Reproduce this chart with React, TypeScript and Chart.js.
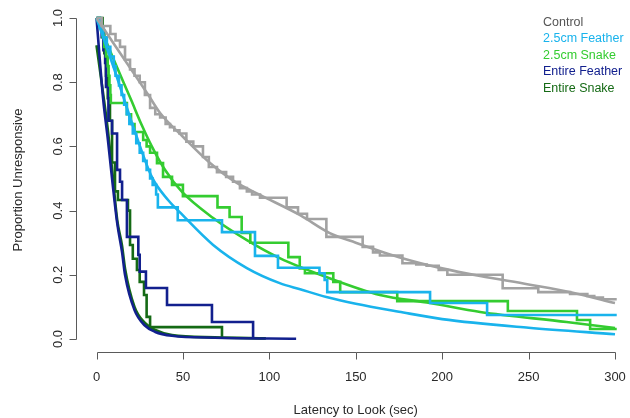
import React, { useEffect, useRef } from 'react';
import { Chart, registerables } from 'chart.js';

Chart.register(...registerables);

// ---- Data ----
const seriesNames = ['Control', '2.5cm Feather', '2.5cm Snake', 'Entire Feather', 'Entire Snake'];
const lineColors = ['#a2a2a2', '#19b3ec', '#34cc30', '#12208e', '#156a15'];
const legendColors = ['#555555', '#19b3ec', '#34cc30', '#12208e', '#156a15'];

const xTicks = [0, 50, 100, 150, 200, 250, 300];
const yTicks = [0, 0.2, 0.4, 0.6, 0.8, 1.0];
const yTickLabels = ['0.0', '0.2', '0.4', '0.6', '0.8', '1.0'];
const xTitle = 'Latency to Look (sec)';
const yTitle = 'Proportion Unresponsive';

// Kaplan-Meier style step curves (time, proportion)
const controlStepT = [0, 3, 8, 11, 13.6, 16.5, 19.4, 22, 25, 28, 31, 34, 36.8, 40, 42.5, 45, 48, 52, 56, 61.6, 65, 69.7, 75, 79, 83, 87, 90, 94.6, 110, 116.6, 121.8, 133, 154, 160, 164, 177, 185, 191, 198, 203, 235, 255.6, 274, 284, 288, 293, 301];
const controlStepS = [1, 0.975, 0.95, 0.93, 0.91, 0.87, 0.84, 0.82, 0.8, 0.76, 0.72, 0.7, 0.69, 0.67, 0.66, 0.65, 0.64, 0.615, 0.6, 0.567, 0.536, 0.52, 0.505, 0.49, 0.47, 0.46, 0.45, 0.44, 0.41, 0.39, 0.374, 0.318, 0.287, 0.27, 0.26, 0.236, 0.232, 0.228, 0.215, 0.2, 0.158, 0.146, 0.14, 0.134, 0.129, 0.124, 0.124];

const feather25StepT = [0, 2, 4, 6, 8, 10, 11, 13, 14.5, 16, 17.5, 19, 21, 23, 25, 27, 29, 31, 32.5, 34.5, 35.5, 47, 72.6, 91.7, 105, 129, 132, 133.5, 193, 226, 301];
const feather25StepS = [1, 0.97, 0.94, 0.91, 0.88, 0.85, 0.82, 0.79, 0.76, 0.73, 0.7, 0.67, 0.64, 0.61, 0.58, 0.555, 0.527, 0.5, 0.48, 0.45, 0.41, 0.37, 0.333, 0.259, 0.222, 0.205, 0.184, 0.146, 0.112, 0.075, 0.075];

const snake25StepT = [0, 2, 3.5, 4.5, 5.5, 6.5, 7, 7.5, 8, 8.3, 17.6, 20, 22, 27, 29, 31, 35, 38.5, 43.7, 50, 70, 77, 84, 89, 111, 117.6, 120.6, 137, 141, 174, 238, 278, 285.6, 301];
const snake25StepS = [1, 0.97, 0.94, 0.91, 0.88, 0.85, 0.82, 0.79, 0.76, 0.735, 0.7, 0.67, 0.645, 0.62, 0.6, 0.58, 0.548, 0.505, 0.48, 0.445, 0.41, 0.38, 0.33, 0.3, 0.255, 0.22, 0.205, 0.178, 0.146, 0.118, 0.087, 0.059, 0.031, 0.031];

const featherEntStepT = [0, 2, 3, 4, 5, 5.5, 6.9, 9, 11.9, 13.6, 14.8, 17.6, 24.2, 25, 28.6, 40.8, 66.8, 90.6];
const featherEntStepS = [1, 0.97, 0.94, 0.9, 0.86, 0.785, 0.68, 0.64, 0.527, 0.49, 0.433, 0.318, 0.262, 0.21, 0.159, 0.106, 0.053, 0];

const snakeEntStepT = [0, 3.5, 4.5, 5.5, 6.5, 7.8, 9, 10.7, 12.4, 18.2, 19.4, 21, 23.4, 25, 27.5, 29, 31, 72.6];
const snakeEntStepS = [1, 0.96, 0.89, 0.82, 0.75, 0.68, 0.55, 0.46, 0.433, 0.4, 0.293, 0.25, 0.215, 0.178, 0.137, 0.069, 0.037, 0];

// Fitted smooth curves (time, proportion)
const controlFitT = [0, 5, 10, 20, 30, 36.8, 50, 65.7, 80, 94.6, 117.8, 135, 150, 175, 200, 222, 250, 275, 300];
const controlFitS = [1, 0.96, 0.92, 0.84, 0.76, 0.704, 0.63, 0.548, 0.49, 0.449, 0.386, 0.33, 0.3, 0.255, 0.22, 0.196, 0.17, 0.145, 0.112];

const feather25FitT = [0, 10, 22.3, 32, 41.4, 48, 67.5, 87, 106, 117.8, 133, 150, 175, 200, 250, 300];
const feather25FitS = [1, 0.845, 0.645, 0.505, 0.433, 0.396, 0.293, 0.221, 0.174, 0.155, 0.131, 0.11, 0.085, 0.062, 0.035, 0.015];

const snake25FitT = [0, 10, 20, 26.3, 32, 39.6, 49.5, 67.5, 87, 106, 133, 164, 193, 222, 272, 300];
const snake25FitS = [1, 0.87, 0.745, 0.665, 0.6, 0.527, 0.458, 0.377, 0.308, 0.252, 0.193, 0.137, 0.112, 0.084, 0.053, 0.034];

const featherEntFitT = [0, 3.8, 6.6, 9, 12, 14.8, 16.5, 22, 28, 34, 43.7, 68.6, 115.5];
const featherEntFitS = [1, 0.75, 0.62, 0.5, 0.36, 0.27, 0.2, 0.09, 0.042, 0.022, 0.01, 0.004, 0.001];

const snakeEntFitT = [0, 3.8, 6.6, 9, 12, 14.8, 16.5, 22, 28, 34, 43.7, 68.6, 98];
const snakeEntFitS = [0.915, 0.766, 0.65, 0.53, 0.37, 0.29, 0.22, 0.1, 0.05, 0.028, 0.012, 0.005, 0.002];

const stepSeries = [
  [controlStepT, controlStepS],
  [feather25StepT, feather25StepS],
  [snake25StepT, snake25StepS],
  [featherEntStepT, featherEntStepS],
  [snakeEntStepT, snakeEntStepS],
];
const fitSeries = [
  [controlFitT, controlFitS],
  [feather25FitT, feather25FitS],
  [snake25FitT, snake25FitS],
  [featherEntFitT, featherEntFitS],
  [snakeEntFitT, snakeEntFitS],
];

const toPoints = (t: number[], s: number[]) => t.map((v, i) => ({ x: v, y: s[i] }));

const FONT = '"Liberation Sans", Arial, Helvetica, sans-serif';

const rAxesPlugin = {
  id: 'rAxes',
  afterDatasetsDraw(chart: any) {
    const { ctx } = chart;
    const xs = chart.scales.x;
    const ys = chart.scales.y;
    const axisY = 352.5;
    const axisX = 76.5;
    ctx.save();
    ctx.strokeStyle = '#5a5a5a';
    ctx.lineWidth = 1;
    ctx.beginPath();
    ctx.moveTo(Math.round(xs.getPixelForValue(xTicks[0])) + 0.5, axisY);
    ctx.lineTo(Math.round(xs.getPixelForValue(xTicks[xTicks.length - 1])) + 0.5, axisY);
    xTicks.forEach((t) => {
      const px = Math.round(xs.getPixelForValue(t)) + 0.5;
      ctx.moveTo(px, axisY);
      ctx.lineTo(px, axisY + 7);
    });
    ctx.moveTo(axisX, Math.round(ys.getPixelForValue(yTicks[0])) + 0.5);
    ctx.lineTo(axisX, Math.round(ys.getPixelForValue(yTicks[yTicks.length - 1])) + 0.5);
    yTicks.forEach((v) => {
      const py = Math.round(ys.getPixelForValue(v)) + 0.5;
      ctx.moveTo(axisX, py);
      ctx.lineTo(axisX - 7, py);
    });
    ctx.stroke();

    ctx.fillStyle = '#2a2a2a';
    ctx.font = `13px ${FONT}`;
    ctx.textAlign = 'center';
    ctx.textBaseline = 'middle';
    xTicks.forEach((t) => {
      ctx.fillText(String(t), xs.getPixelForValue(t), 377);
    });
    yTicks.forEach((v, i) => {
      ctx.save();
      ctx.translate(58, ys.getPixelForValue(v));
      ctx.rotate(-Math.PI / 2);
      ctx.fillText(yTickLabels[i], 0, 0);
      ctx.restore();
    });

    ctx.font = `13px ${FONT}`;
    ctx.fillText(xTitle, (xs.getPixelForValue(0) + xs.getPixelForValue(300)) / 2, 410);
    ctx.save();
    ctx.translate(18, 180);
    ctx.rotate(-Math.PI / 2);
    ctx.fillText(yTitle, 0, 0);
    ctx.restore();

    ctx.font = `12.5px ${FONT}`;
    ctx.textAlign = 'left';
    seriesNames.forEach((name, i) => {
      ctx.fillStyle = legendColors[i];
      ctx.fillText(name, 543, 22.5 + i * 16.5);
    });
    ctx.restore();
  },
};

export default function App() {
  const canvasRef = useRef<HTMLCanvasElement | null>(null);

  useEffect(() => {
    document.body.style.margin = '0';
    const canvas = canvasRef.current;
    if (!canvas) return;

    const datasets: any[] = [];
    for (let i = 0; i < 5; i++) {
      datasets.push({
        label: seriesNames[i] + ' KM',
        data: toPoints(stepSeries[i][0], stepSeries[i][1]),
        borderColor: lineColors[i],
        borderWidth: 2.6,
        pointRadius: 0,
        stepped: 'before',
        fill: false,
        clip: false,
      });
      datasets.push({
        label: seriesNames[i] + ' fit',
        data: toPoints(fitSeries[i][0], fitSeries[i][1]),
        borderColor: lineColors[i],
        borderWidth: 2.6,
        pointRadius: 0,
        cubicInterpolationMode: 'monotone',
        fill: false,
        clip: false,
      });
    }

    const chart = new Chart(canvas, {
      type: 'line',
      data: { datasets },
      options: {
        animation: false,
        responsive: false,
        maintainAspectRatio: false,
        layout: { padding: { left: 96.5, right: 15, top: 18, bottom: 79 } },
        plugins: { legend: { display: false }, tooltip: { enabled: false } },
        scales: {
          x: { type: 'linear', min: 0, max: 300, display: false },
          y: { type: 'linear', min: 0, max: 1, display: false },
        },
      },
      plugins: [rAxesPlugin],
    });
    return () => chart.destroy();
  }, []);

  return (
    <canvas ref={canvasRef} width={630} height={418} style={{ display: 'block', width: 630, height: 418 }} />
  );
}
